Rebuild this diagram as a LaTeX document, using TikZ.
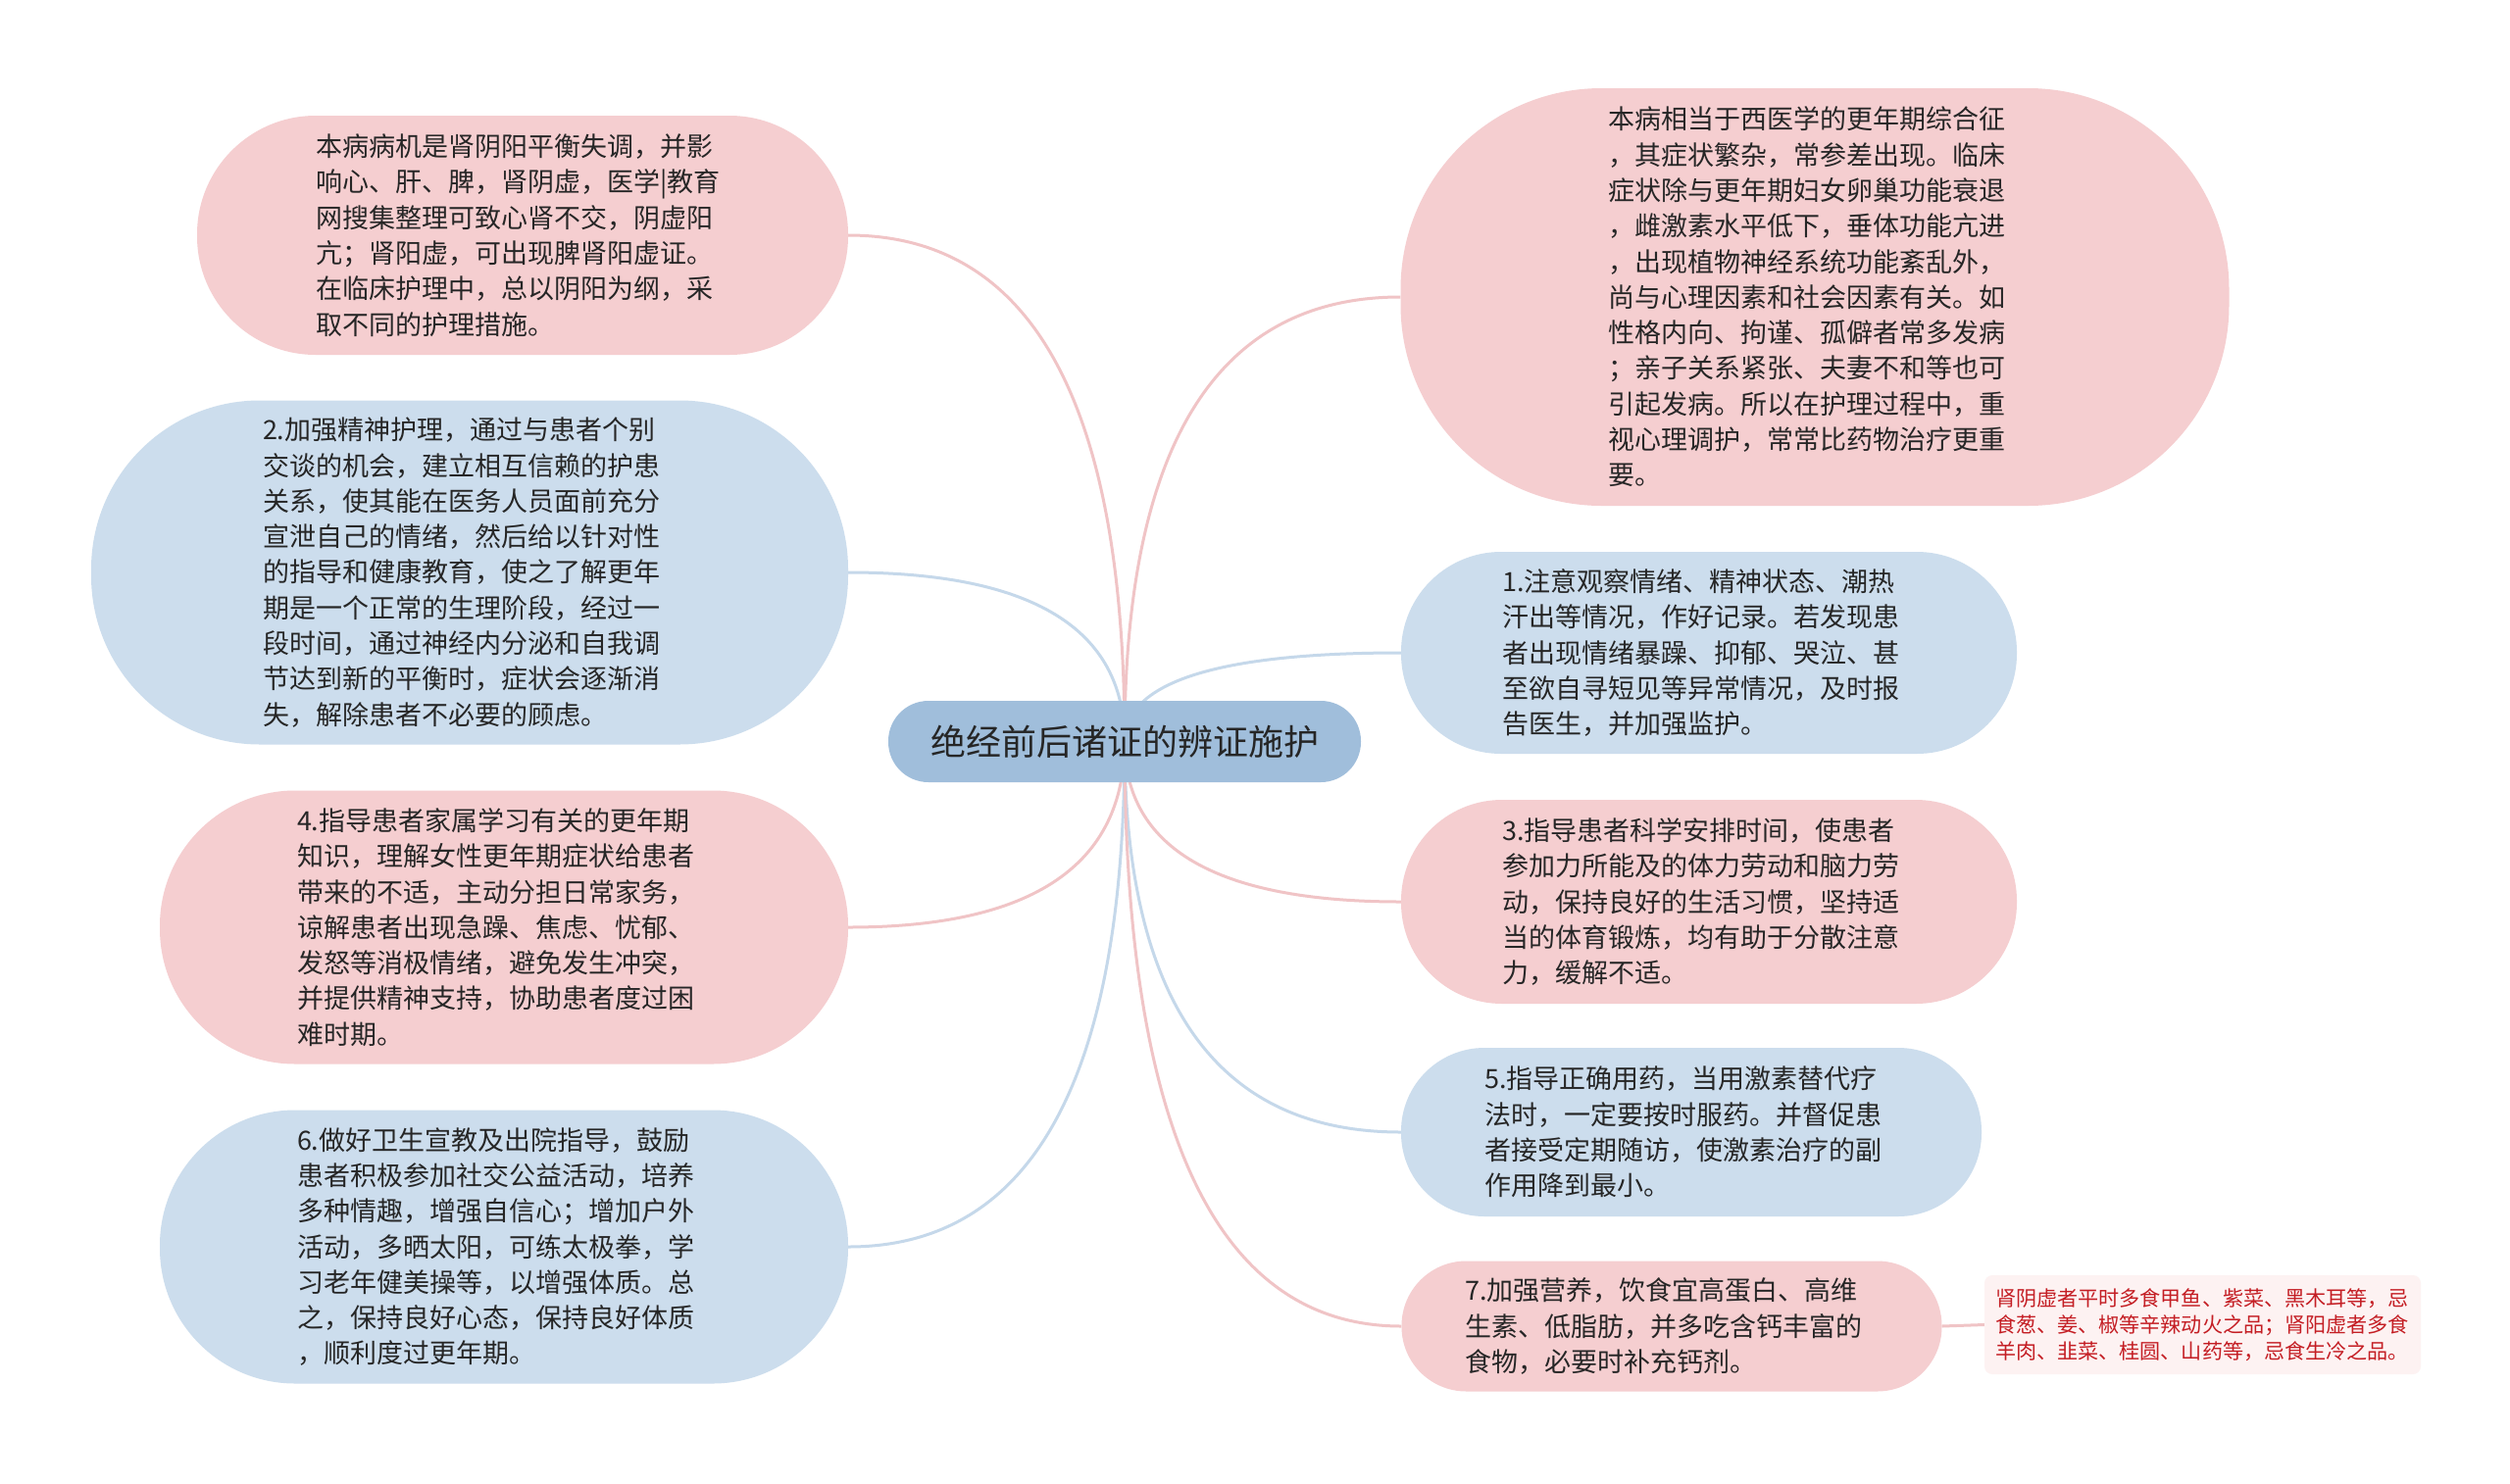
\documentclass[tikz,border=0pt]{standalone}
\usepackage{fontspec}
\setmainfont{Noto Sans CJK SC}
\usetikzlibrary{calc}
\definecolor{pinkfill}{HTML}{F5CED0}
\definecolor{bluefill}{HTML}{CCDDED}
\definecolor{centerfill}{HTML}{A0BEDB}
\definecolor{pinkline}{HTML}{F0C4C6}
\definecolor{blueline}{HTML}{C5D8EA}
\definecolor{textc}{HTML}{262626}
\definecolor{notetext}{HTML}{C41E24}
\definecolor{notefill}{HTML}{FDF2F2}
\pgfdeclarelayer{bg}
\pgfsetlayers{bg,main}
\tikzset{
  topic/.style={text width=422pt, align=left, inner sep=0pt, text=textc,
    font=\fontsize{27}{36.3}\selectfont},
  pinkn/.style={topic, fill=pinkfill},
  bluen/.style={topic, fill=bluefill},
  centern/.style={fill=centerfill, text=textc, rounded corners=41pt, inner sep=0pt,
    minimum width=482pt, minimum height=83pt, font=\fontsize{36}{40}\selectfont},
  notenode/.style={fill=notefill, text=notetext, rounded corners=8pt, inner sep=0pt,
    text width=423pt, align=left, minimum width=445pt, minimum height=101pt,
    font=\fontsize{21.1}{27}\selectfont},
  pinkc/.style={draw=pinkline, line width=3pt},
  bluec/.style={draw=blueline, line width=3pt}
}
\newcommand\mmlink[2]{%
  \draw[#1] (c.center) .. controls ($(c.center)!0.6667!(c.center|-#2)$)
    and ($(#2)!0.6667!(c.center|-#2)$) .. (#2);}
\begin{document}
\begin{tikzpicture}[x=1pt,y=-1pt]
\useasboundingbox (0,0) rectangle (2560,1513);

\node[centern] (c) at (1147,756.5) {绝经前后诸证的辨证施护};

\node[pinkn, rounded corners=121pt, minimum width=664pt, minimum height=244pt] (l1) at (533,240) {本病病机是肾阴阳平衡失调，并影\\响心、肝、脾，肾阴虚，医学|教育\\网搜集整理可致心肾不交，阴虚阳\\亢；肾阳虚，可出现脾肾阳虚证。\\在临床护理中，总以阴阳为纲，采\\取不同的护理措施。};

\node[bluen, rounded corners=172pt, minimum width=772pt, minimum height=351pt] (l2) at (479,584) {2.加强精神护理，通过与患者个别\\交谈的机会，建立相互信赖的护患\\关系，使其能在医务人员面前充分\\宣泄自己的情绪，然后给以针对性\\的指导和健康教育，使之了解更年\\期是一个正常的生理阶段，经过一\\段时间，通过神经内分泌和自我调\\节达到新的平衡时，症状会逐渐消\\失，解除患者不必要的顾虑。};

\node[pinkn, rounded corners=138pt, minimum width=702pt, minimum height=279pt] (l3) at (514,946) {4.指导患者家属学习有关的更年期\\知识，理解女性更年期症状给患者\\带来的不适，主动分担日常家务，\\谅解患者出现急躁、焦虑、忧郁、\\发怒等消极情绪，避免发生冲突，\\并提供精神支持，协助患者度过困\\难时期。};

\node[bluen, rounded corners=138pt, minimum width=702pt, minimum height=279pt] (l4) at (514,1272) {6.做好卫生宣教及出院指导，鼓励\\患者积极参加社交公益活动，培养\\多种情趣，增强自信心；增加户外\\活动，多晒太阳，可练太极拳，学\\习老年健美操等，以增强体质。总\\之，保持良好心态，保持良好体质\\，顺利度过更年期。};

\node[pinkn, rounded corners=205pt, minimum width=845pt, minimum height=426pt] (r1) at (1851,303) {本病相当于西医学的更年期综合征\\，其症状繁杂，常参差出现。临床\\症状除与更年期妇女卵巢功能衰退\\，雌激素水平低下，垂体功能亢进\\，出现植物神经系统功能紊乱外，\\尚与心理因素和社会因素有关。如\\性格内向、拘谨、孤僻者常多发病\\；亲子关系紧张、夫妻不和等也可\\引起发病。所以在护理过程中，重\\视心理调护，常常比药物治疗更重\\要。};

\node[bluen, rounded corners=102pt, minimum width=628pt, minimum height=206pt] (r2) at (1743,666) {1.注意观察情绪、精神状态、潮热\\汗出等情况，作好记录。若发现患\\者出现情绪暴躁、抑郁、哭泣、甚\\至欲自寻短见等异常情况，及时报\\告医生，并加强监护。};

\node[pinkn, rounded corners=103pt, minimum width=628pt, minimum height=208pt] (r3) at (1743,920) {3.指导患者科学安排时间，使患者\\参加力所能及的体力劳动和脑力劳\\动，保持良好的生活习惯，坚持适\\当的体育锻炼，均有助于分散注意\\力，缓解不适。};

\node[bluen, rounded corners=85pt, minimum width=592pt, minimum height=172pt] (r4) at (1725,1155) {5.指导正确用药，当用激素替代疗\\法时，一定要按时服药。并督促患\\者接受定期随访，使激素治疗的副\\作用降到最小。};

\node[pinkn, rounded corners=66pt, minimum width=551pt, minimum height=133pt] (r5) at (1705,1353) {7.加强营养，饮食宜高蛋白、高维\\生素、低脂肪，并多吃含钙丰富的\\食物，必要时补充钙剂。};

\node[notenode] (note) at (2246.5,1351.5) {肾阴虚者平时多食甲鱼、紫菜、黑木耳等，忌\\食葱、姜、椒等辛辣动火之品；肾阳虚者多食\\羊肉、韭菜、桂圆、山药等，忌食生冷之品。};

\begin{pgfonlayer}{bg}
\fill[white] (0,0) rectangle (2560,1513);
\mmlink{pinkc}{l1.east}
\mmlink{bluec}{l2.east}
\mmlink{pinkc}{l3.east}
\mmlink{bluec}{l4.east}
\mmlink{pinkc}{r1.west}
\mmlink{bluec}{r2.west}
\mmlink{pinkc}{r3.west}
\mmlink{bluec}{r4.west}
\mmlink{pinkc}{r5.west}
\draw[pinkc] (r5.east) -- (note.west);
\end{pgfonlayer}
\end{tikzpicture}
\end{document}
